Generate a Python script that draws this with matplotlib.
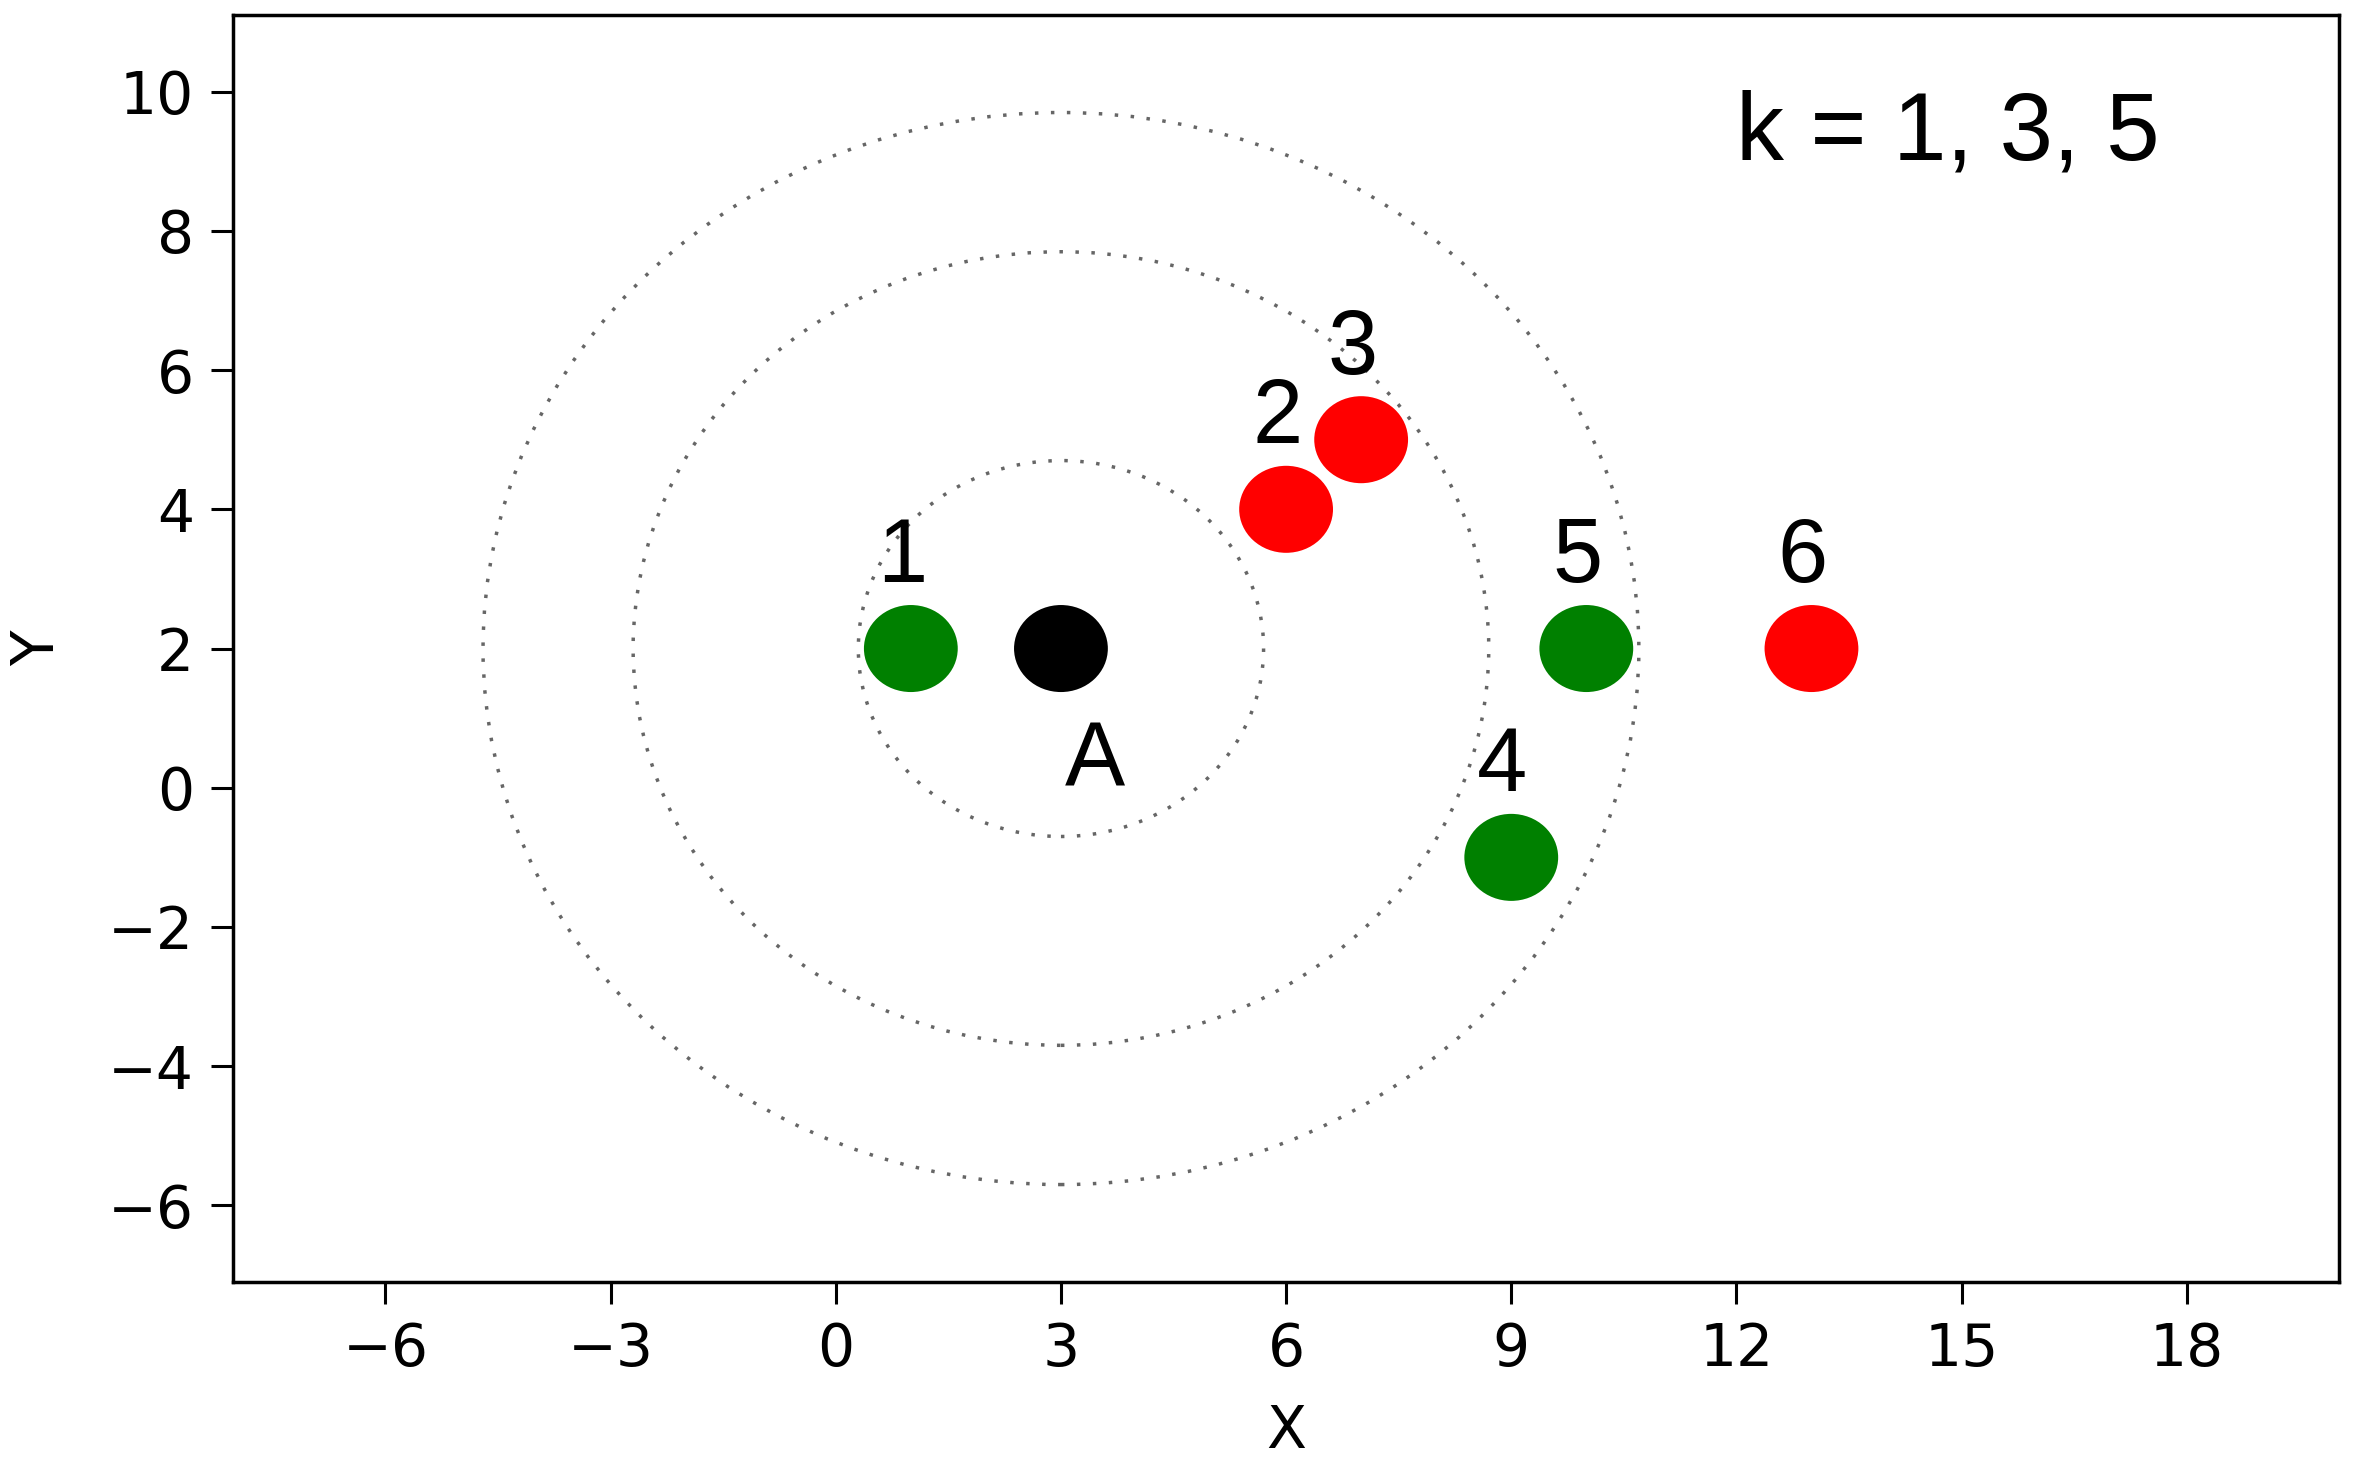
import matplotlib
matplotlib.use("Agg")
import matplotlib.pyplot as plt
from matplotlib.patches import Circle

# data
query_x, query_y, query_label = 3, 2, "A"
pt_x = [1, 6, 7, 9, 10, 13]
pt_y = [2, 4, 5, -1, 2, 2]
pt_labels = ["1", "2", "3", "4", "5", "6"]
pt_colors = ["green", "red", "red", "green", "green", "red"]
ring_radii = [2.7, 5.7, 7.7]
annotation = "k = 1, 3, 5"
annotation_pos = (12, 9)
xticks = [-6, -3, 0, 3, 6, 9, 12, 15, 18]
yticks = [-6, -4, -2, 0, 2, 4, 6, 8, 10]

fig = plt.figure(figsize=(23.57, 14.61), dpi=100)
ax = fig.add_axes([0.0989, 0.1225, 0.9924 - 0.0989, 0.9897 - 0.1225])

marker_r = 0.625
lab_font = "Liberation Sans"
lab_size = 65

for r in ring_radii:
    ax.add_patch(Circle((query_x, query_y), r, fill=False, ls=(0, (1, 3.6)),
                        lw=2.5, ec="#666666"))

for x, y, lab, c in zip(pt_x, pt_y, pt_labels, pt_colors):
    ax.add_patch(Circle((x, y), marker_r, color=c, lw=0))
    ax.text(x - 0.12, y + 0.95, lab, ha="center", va="baseline",
            fontsize=lab_size, family=lab_font)

ax.add_patch(Circle((query_x, query_y), marker_r, color="black", lw=0))
ax.text(query_x + 0.45, query_y - 1.97, query_label, ha="center", va="baseline",
        fontsize=lab_size, family=lab_font)

ax.text(annotation_pos[0], annotation_pos[1] + 0.02, annotation, ha="left",
        va="baseline", fontsize=69, family=lab_font)

ax.set_xlim(-8.03, 20.03)
ax.set_ylim(-7.1, 11.1)
ax.set_xticks(xticks)
ax.set_yticks(yticks)
ax.tick_params(labelsize=42, length=16, width=2.2, pad=12)
ax.set_xlabel("X", fontsize=42, labelpad=18)
ax.set_ylabel("Y", fontsize=42, labelpad=30)
for s in ax.spines.values():
    s.set_linewidth(2.5)

fig.savefig("out.png", dpi=100)
